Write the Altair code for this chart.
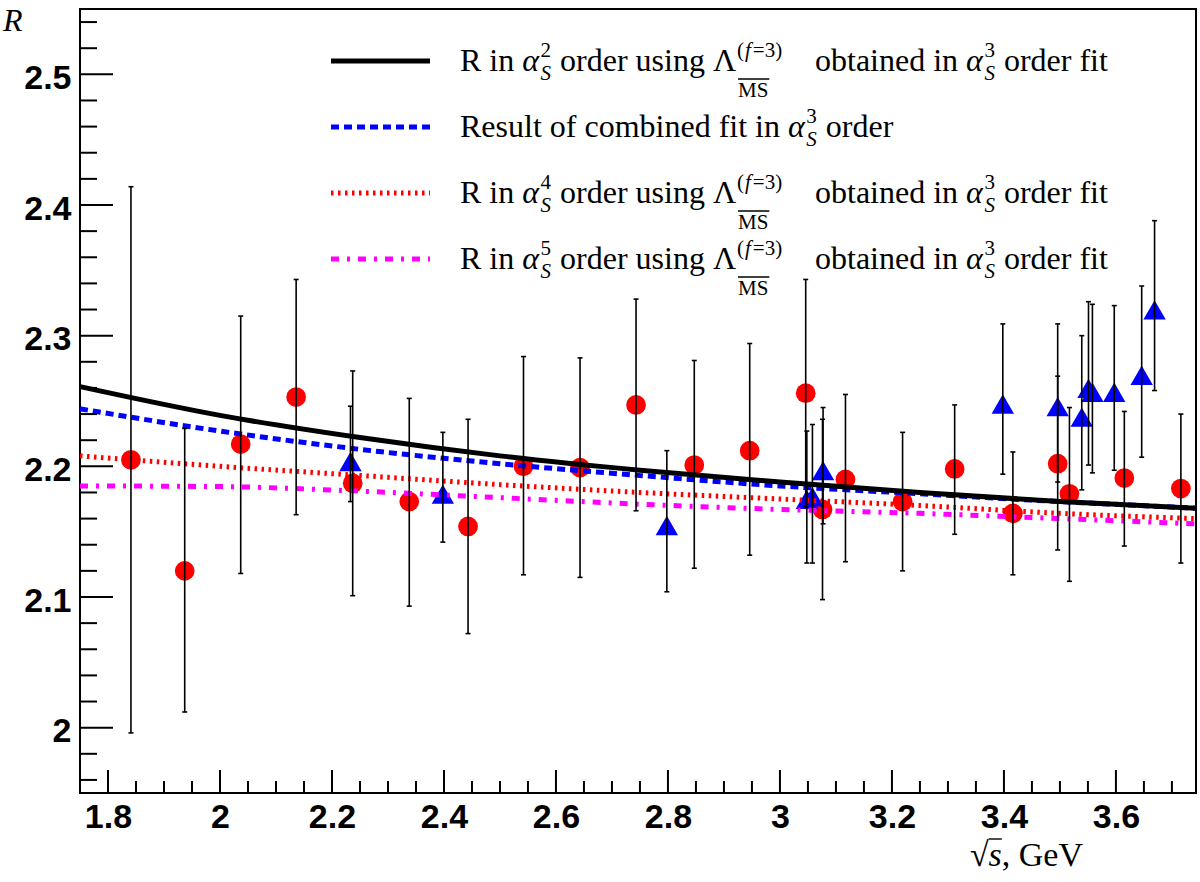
import altair as alt
import pandas as pd

# ---------------- data ----------------
red_x = [1.841, 1.937, 2.037, 2.136, 2.237, 2.338, 2.443, 2.542, 2.643, 2.743, 2.847,
         2.946, 3.046, 3.076, 3.117, 3.219, 3.312, 3.416, 3.496, 3.517, 3.615, 3.716]
red_y = [2.205, 2.120, 2.217, 2.253, 2.187, 2.173, 2.154, 2.200, 2.199, 2.247, 2.201,
         2.212, 2.256, 2.167, 2.190, 2.173, 2.198, 2.164, 2.202, 2.179, 2.191, 2.183]
red_lo = [1.996, 2.012, 2.118, 2.163, 2.101, 2.093, 2.072, 2.117, 2.115, 2.166, 2.122,
          2.132, 2.169, 2.098, 2.127, 2.120, 2.148, 2.117, 2.136, 2.112, 2.139, 2.126]
red_hi = [2.414, 2.229, 2.315, 2.343, 2.273, 2.252, 2.236, 2.284, 2.283, 2.328, 2.281,
          2.294, 2.343, 2.236, 2.255, 2.226, 2.247, 2.211, 2.269, 2.245, 2.242, 2.240]

blue_x = [2.233, 2.398, 2.798, 3.048, 3.058, 3.077, 3.398, 3.496, 3.539, 3.551, 3.558,
          3.597, 3.646, 3.669]
blue_y = [2.206, 2.181, 2.157, 2.177, 2.179, 2.199, 2.250, 2.248, 2.240, 2.262, 2.259,
          2.259, 2.272, 2.322]
blue_lo = [2.173, 2.142, 2.104, 2.126, 2.126, 2.156, 2.194, 2.188, 2.182, 2.201, 2.195,
           2.197, 2.207, 2.258]
blue_hi = [2.246, 2.226, 2.212, 2.227, 2.232, 2.245, 2.309, 2.309, 2.300, 2.326, 2.324,
           2.323, 2.338, 2.388]

curve_x = [1.75, 2.0, 2.25, 2.5, 2.75, 3.0, 3.25, 3.5, 3.743]
curve_a2 = [2.261, 2.239, 2.222, 2.208, 2.197, 2.188, 2.180, 2.173, 2.168]
curve_fit3 = [2.244, 2.227, 2.213, 2.202, 2.193, 2.185, 2.179, 2.173, 2.168]
curve_a4 = [2.208, 2.200, 2.193, 2.186, 2.180, 2.175, 2.170, 2.164, 2.160]
curve_a5 = [2.185, 2.1845, 2.181, 2.176, 2.171, 2.167, 2.164, 2.160, 2.156]

x_major = [1.8, 2.0, 2.2, 2.4, 2.6, 2.8, 3.0, 3.2, 3.4, 3.6]
x_minor = [1.85, 1.9, 1.95, 2.05, 2.1, 2.15, 2.25, 2.3, 2.35, 2.45, 2.5, 2.55,
           2.65, 2.7, 2.75, 2.85, 2.9, 2.95, 3.05, 3.1, 3.15, 3.25, 3.3, 3.35,
           3.45, 3.5, 3.55, 3.65, 3.7]
y_major = [2.0, 2.1, 2.2, 2.3, 2.4, 2.5]
y_minor = [1.96, 1.98, 2.02, 2.04, 2.06, 2.08, 2.12, 2.14, 2.16, 2.18, 2.22, 2.24,
           2.26, 2.28, 2.32, 2.34, 2.36, 2.38, 2.42, 2.44, 2.46, 2.48, 2.52, 2.54]

# ---------------- layout ----------------
LEFT, TOP, W, H = 80, 9, 1116, 784
X_DOM = [1.75, 3.743]
Y_DOM = [1.95, 2.55]
SERIF = "Liberation Serif"
SANS = "Liberation Sans"

xs = alt.Scale(domain=X_DOM, nice=False, zero=False)
ys = alt.Scale(domain=Y_DOM, nice=False, zero=False)

AXX = alt.Axis(values=x_major, format="~g", title=None, ticks=False, domain=False,
               grid=False, labelFont=SANS, labelFontSize=34, labelFontWeight="bold",
               labelColor="black", labelPadding=7, labelFlush=False)
AXY = alt.Axis(values=y_major, format="~g", title=None, ticks=False, domain=False,
               grid=False, labelFont=SANS, labelFontSize=34, labelFontWeight="bold",
               labelColor="black", labelPadding=9, labelFlush=False, labelOffset=4)


def X(f):
    return alt.X(f, scale=xs, axis=AXX)


def Y(f):
    return alt.Y(f, scale=ys, axis=AXY)


red = pd.DataFrame({"x": red_x, "y": red_y, "lo": red_lo, "hi": red_hi})
blue = pd.DataFrame({"x": blue_x, "y": blue_y, "lo": blue_lo, "hi": blue_hi})
curves = pd.DataFrame({"x": curve_x, "a2": curve_a2, "fit3": curve_fit3,
                       "a4": curve_a4, "a5": curve_a5})
one = pd.DataFrame({"d": [0]})

layers = []

STY = {
    "a2": dict(color="#000000", strokeWidth=5),
    "fit3": dict(color="#0000ff", strokeWidth=5, strokeDash=[8, 5]),
    "a4": dict(color="#ff0000", strokeWidth=5, strokeDash=[2.5, 4.5]),
    "a5": dict(color="#ff00ff", strokeWidth=5, strokeDash=[8, 8, 3, 8]),
}

# markers
layers.append(alt.Chart(red).mark_circle(size=390, color="#ff0000", opacity=1).encode(
    x=X("x:Q"), y=Y("y:Q")))
layers.append(alt.Chart(blue).mark_point(shape="triangle-up", filled=True, size=500,
                                         color="#0000ff", opacity=1, yOffset=3).encode(
    x=X("x:Q"), y=Y("y:Q")))

# curves
for key in ["a5", "a4", "fit3", "a2"]:
    layers.append(alt.Chart(curves).mark_line(interpolate="monotone", **STY[key]).encode(
        x=X("x:Q"), y=Y(f"{key}:Q")))

# error bars
for df in (red, blue):
    layers.append(alt.Chart(df).mark_rule(color="black", strokeWidth=1.6).encode(
        x=X("x:Q"), y=Y("lo:Q"), y2="hi:Q"))
    for col in ("lo", "hi"):
        layers.append(alt.Chart(df).mark_tick(orient="horizontal", size=5, thickness=1.6,
                                              color="black", opacity=1).encode(
            x=X("x:Q"), y=Y(f"{col}:Q")))

# ticks (inward)
xmaj = pd.DataFrame({"v": x_major})
xmin = pd.DataFrame({"v": x_minor})
ymaj = pd.DataFrame({"v": y_major})
ymin = pd.DataFrame({"v": y_minor})

layers.append(alt.Chart(xmaj).mark_rule(color="black", strokeWidth=2).encode(
    x=X("v:Q"), y=alt.value(H), y2=alt.value(H - 23)))
layers.append(alt.Chart(xmin).mark_rule(color="black", strokeWidth=2).encode(
    x=X("v:Q"), y=alt.value(H), y2=alt.value(H - 12)))
layers.append(alt.Chart(ymaj).mark_rule(color="black", strokeWidth=2).encode(
    y=Y("v:Q"), x=alt.value(0), x2=alt.value(33)))
layers.append(alt.Chart(ymin).mark_rule(color="black", strokeWidth=2).encode(
    y=Y("v:Q"), x=alt.value(0), x2=alt.value(17)))

# ---------------- text helpers ----------------
TW = {' ': 250, 'R': 667, 'i': 278, 'n': 500, 'o': 500, 'r': 333, 'd': 500, 'e': 444,
      'u': 500, 's': 389, 'g': 500, 'b': 500, 't': 278, 'a': 444, 'f': 333, 'l': 278,
      'c': 444, 'm': 778, '(': 333, ')': 333, '=': 564, 'M': 889, 'S': 556, 'Λ': 722,
      'α': 530, 'G': 722, 'V': 722, ',': 250, '√': 549}
TWI = {'S': 500, 'f': 278, 'α': 540, 's': 389, 'R': 611}


def tw(s, size, italic=False):
    tot = 0
    for ch in s:
        if italic and ch in TWI:
            tot += TWI[ch]
        else:
            tot += TW.get(ch, 500)
    return tot * size / 1000.0


def frag(s, x, y, size=32, italic=False, font=SERIF):
    return alt.Chart(one).mark_text(
        align="left", baseline="alphabetic", font=font, fontSize=size,
        fontStyle="italic" if italic else "normal", color="black").encode(
        x=alt.value(x - LEFT), y=alt.value(y - TOP), text=alt.value(s))


def hline(x1, x2, y, width=1.5, color="black", dash=None):
    kw = dict(color=color, strokeWidth=width)
    if dash:
        kw["strokeDash"] = dash
    return alt.Chart(one).mark_rule(**kw).encode(
        x=alt.value(x1 - LEFT), x2=alt.value(x2 - LEFT), y=alt.value(y - TOP))


F, FS = 32, 21
TEXT_X = 460


def alpha_s(x, b, power):
    out = [frag("α", x, b, italic=True)]
    x += tw("α", F, True) + 1
    out.append(frag(power, x, b - 14, size=FS))
    out.append(frag("S", x, b + 9, size=FS, italic=True))
    x += max(tw(power, FS), tw("S", FS, True)) + 1
    return out, x


def order_row(power, line_y):
    b = line_y + 10
    out = []
    x = TEXT_X
    out.append(frag("R in", x, b))
    x += tw("R in ", F)
    a, x = alpha_s(x, b, power)
    out += a
    x += tw(" ", F)
    out.append(frag("order using", x, b))
    x += tw("order using ", F)
    out.append(frag("Λ", x, b))
    x += tw("Λ", F) + 1
    sx = x
    out.append(frag("(", sx, b - 14, size=FS))
    sx += tw("(", FS) + 1
    out.append(frag("f", sx, b - 14, size=FS, italic=True))
    sx += tw("f", FS, True) + 2
    out.append(frag("=3)", sx, b - 14, size=FS))
    out.append(hline(x + 1, x + 2 + tw("MS", FS), b + 8, width=1.4))
    out.append(frag("MS", x + 1, b + 26, size=FS))
    x = 815
    out.append(frag("obtained in", x, b))
    x += tw("obtained in ", F)
    a, x = alpha_s(x, b, "3")
    out += a
    x += tw(" ", F)
    out.append(frag("order fit", x, b))
    return out


def fit_row(line_y):
    b = line_y + 10
    out = []
    x = TEXT_X
    out.append(frag("Result of combined fit in", x, b))
    x += tw("Result of combined fit in ", F)
    a, x = alpha_s(x, b, "3")
    out += a
    x += tw(" ", F)
    out.append(frag("order", x, b))
    return out


# ---------------- legend ----------------
LX1, LX2 = 331, 430
ROWS = [61, 127, 193, 259]
layers.append(hline(LX1, LX2, ROWS[0], width=5, color="#000000"))
layers.append(hline(LX1, LX2, ROWS[1], width=5, color="#0000ff", dash=[8, 5]))
layers.append(hline(LX1, LX2, ROWS[2], width=5, color="#ff0000", dash=[2.5, 4.5]))
layers.append(hline(LX1, LX2, ROWS[3], width=5, color="#ff00ff", dash=[8, 8, 3, 8]))
layers += order_row("2", ROWS[0])
layers += fit_row(ROWS[1])
layers += order_row("4", ROWS[2])
layers += order_row("5", ROWS[3])

# ---------------- axis titles ----------------
layers.append(frag("R", 3, 31, size=32, italic=True))
XT_B = 866
xt_end = 1083
gev_x = xt_end - tw(", GeV", 34)
s_x = gev_x - tw("s", 34, True)
sq_x = s_x - tw("√", 34)
layers.append(frag("√", sq_x, XT_B, size=34))
layers.append(frag("s", s_x, XT_B, size=34, italic=True))
layers.append(frag(", GeV", gev_x, XT_B, size=34))
layers.append(hline(s_x, gev_x, XT_B - 27, width=1.4))

chart = alt.layer(*layers).properties(
    width=W, height=H,
    padding={"left": LEFT, "top": TOP, "right": 1200 - LEFT - W, "bottom": 882 - TOP - H},
    autosize=alt.AutoSizeParams(type="none"),
    background="white",
).configure_view(stroke="black", strokeWidth=2)

chart.save("out.html", embed_options={"renderer": "svg", "actions": False})
